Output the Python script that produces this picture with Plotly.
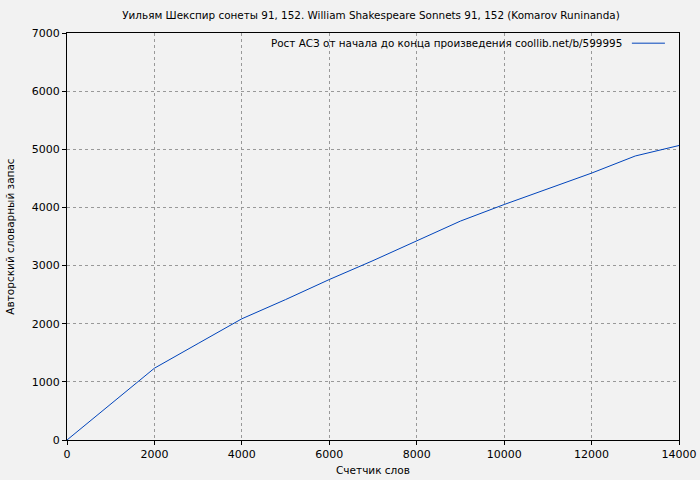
import plotly.graph_objects as go

words = [0, 1000, 2000, 3000, 4000, 5000, 6000, 7000, 8000, 9000, 10000, 11000, 12000, 13000, 14000]
vocab = [0, 615, 1235, 1660, 2085, 2415, 2760, 3085, 3430, 3765, 4050, 4320, 4590, 4885, 5065]

title = "Уильям Шекспир сонеты 91, 152. William Shakespeare Sonnets 91, 152 (Komarov Runinanda)"
series_name = "Рост АСЗ от начала до конца произведения coollib.net/b/599995"
x_title = "Счетчик слов"
y_title = "Авторский словарный запас"

font = "DejaVu Sans"
bg = "#f2f2f2"

fig = go.Figure()
fig.add_trace(go.Scatter(x=words, y=vocab, mode="lines", name=series_name,
                         line=dict(color="#0044bb", width=1), showlegend=False))

axis_common = dict(showline=True, linecolor="black", linewidth=1, mirror=True,
                   ticks="outside", ticklen=4, tickcolor="black",
                   showgrid=True, gridcolor="#999999", griddash="dot", gridwidth=1,
                   zeroline=False, tickformat="d", automargin=False,
                   tickfont=dict(family=font, size=11, color="black"))

fig.update_xaxes(range=[0, 14000], dtick=2000,
                 title=dict(text=x_title, font=dict(family=font, size=10.5, color="black"), standoff=6),
                 **axis_common)
fig.update_yaxes(range=[0, 7000], dtick=1000,
                 title=dict(text=y_title, font=dict(family=font, size=10.5, color="black"), standoff=15),
                 **axis_common)

fig.add_annotation(xref="paper", yref="paper", x=0.91, y=0.976, xanchor="right", yanchor="middle",
                   text=series_name, showarrow=False, font=dict(family=font, size=10.4, color="black"))
fig.add_shape(type="line", xref="paper", yref="paper", x0=0.923, x1=0.977, y0=0.975, y1=0.975,
              line=dict(color="#0044bb", width=1))

fig.update_layout(
    width=700, height=480,
    paper_bgcolor=bg, plot_bgcolor=bg,
    margin=dict(l=67, r=21, t=33, b=40, autoexpand=False),
    title=dict(text=title, x=0.53, xanchor="center", y=0.967, yanchor="middle",
               font=dict(family=font, size=10.4, color="black")),
    font=dict(family=font, size=11, color="black"),
)

fig.write_html("out.html", config={"displayModeBar": False},
               post_script="document.body.style.margin='0';document.body.style.background='#f2f2f2';")
